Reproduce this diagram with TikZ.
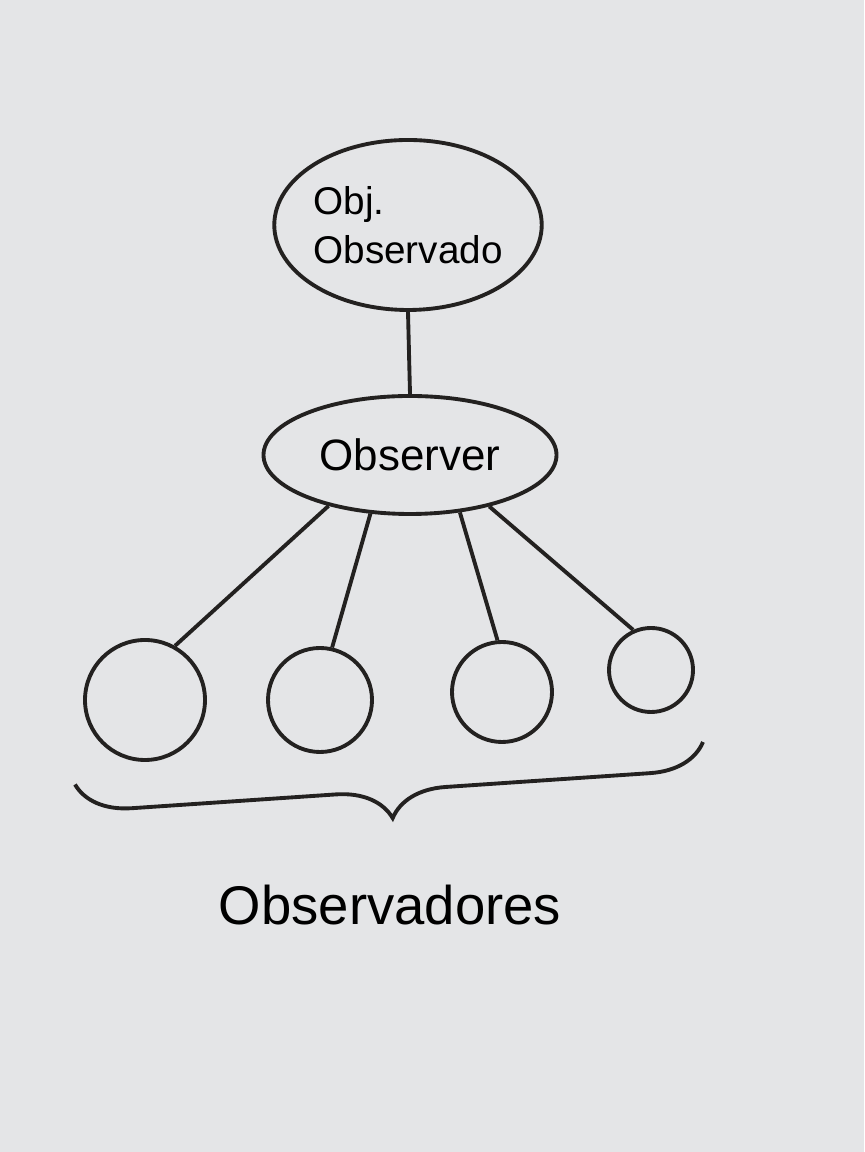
\documentclass[tikz,border=0pt]{standalone}
\usepackage{fontspec}
\setmainfont{Liberation Sans}
\usetikzlibrary{positioning,shapes.geometric,decorations.pathreplacing}
\definecolor{ink1}{RGB}{35,33,32}
\definecolor{board1}{RGB}{228,229,231}

\begin{document}
\begin{tikzpicture}[
  blob/.style={draw=ink1, line width=2.2pt, ellipse, inner sep=0pt},
  obsv/.style={draw=ink1, line width=2.2pt, circle, inner sep=0pt},
  wire/.style={draw=ink1, line width=2.2pt}]
\fill[board1] (0,0) rectangle (17.28,23.04);
\useasboundingbox (0,0) rectangle (17.28,23.04);
% subject and observer
\node[blob, minimum width=5.3cm, minimum height=3.4cm, align=left, font=\fontsize{22}{28}\selectfont] (Obj) at (8.16,18.54) {Obj.\\ Observado};
\node[blob, minimum width=5.86cm, minimum height=2.36cm, font=\fontsize{25}{30}\selectfont] (Obs) at (8.2,13.94) {Observer};
\draw[wire] (Obj.south) -- (Obs.north);
% observers
\node[obsv, minimum size=2.4cm] (C1) at (2.9,9.04) {};
\node[obsv, minimum size=2.08cm] (C2) at (6.4,9.04) {};
\node[obsv, minimum size=2cm] (C3) at (10.04,9.2) {};
\node[obsv, minimum size=1.68cm] (C4) at (13.02,9.64) {};
\draw[wire] (Obs.212) -- (C1.61);
\draw[wire] (Obs.236) -- (C2.77);
\draw[wire] (Obs.311) -- (C3.95);
\draw[wire] (Obs.327) -- (C4.114);
% brace and label
\coordinate (BL) at (1.5,7.35);
\coordinate (BR) at (14.06,8.2);
\draw[wire, decorate, decoration={brace, mirror, amplitude=1.1cm}] (BL) -- (BR);
\node[font=\fontsize{31}{36}\selectfont] (Lbl) at (7.8,4.94) {Observadores};
\end{tikzpicture}
\end{document}
